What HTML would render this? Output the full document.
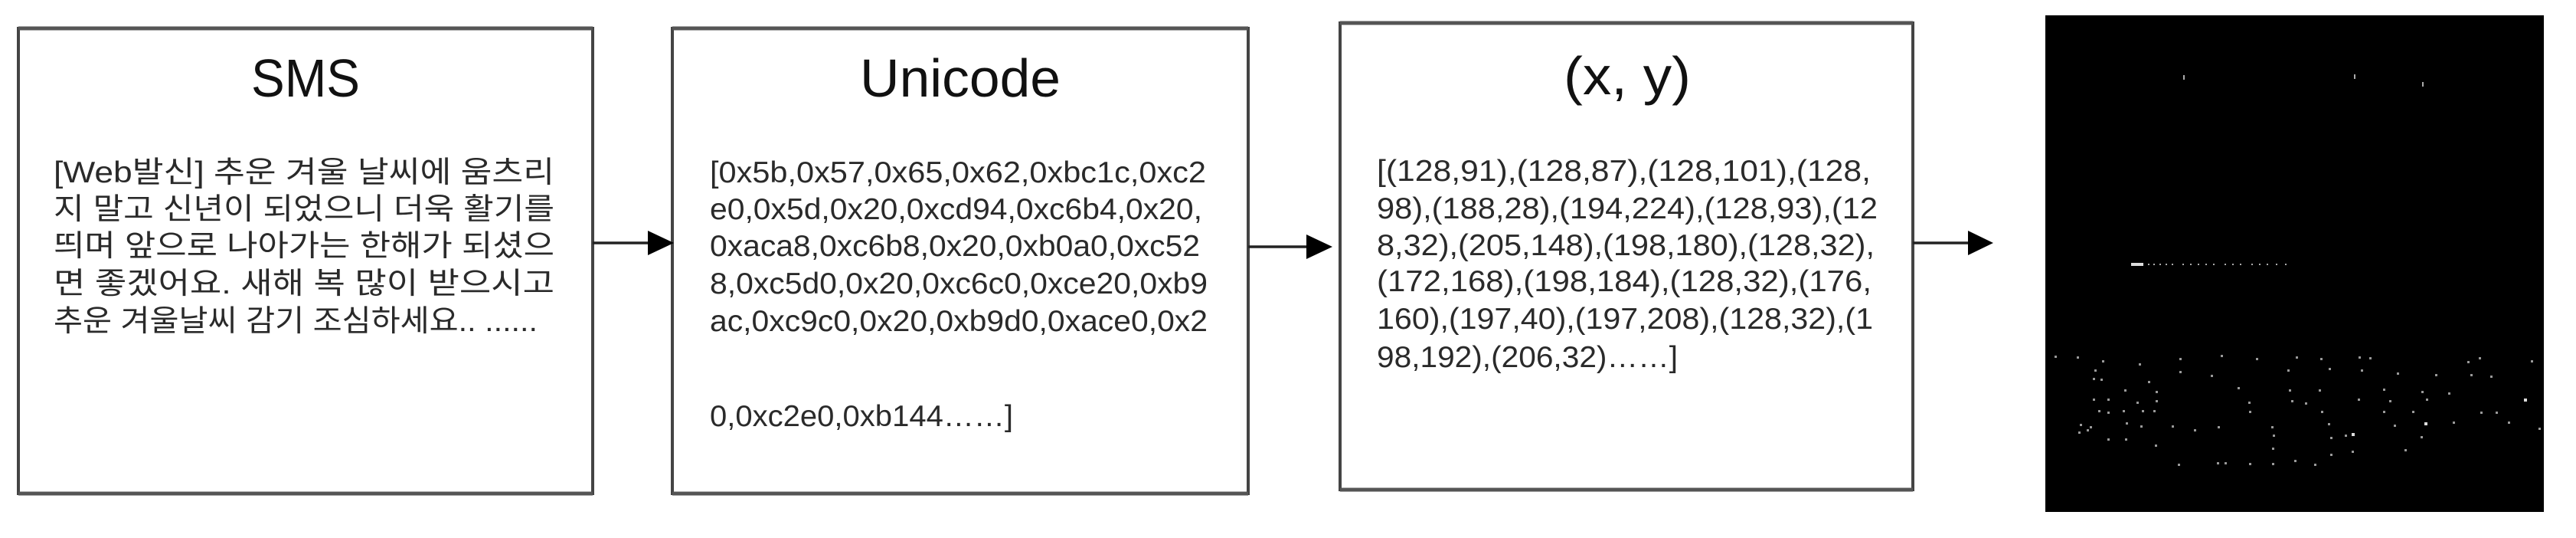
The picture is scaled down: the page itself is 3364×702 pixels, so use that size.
<!DOCTYPE html>
<html><head><meta charset="utf-8"><style>
html,body{margin:0;padding:0;background:#fff;}
svg{display:block;}
text{font-family:"Liberation Sans","Noto Sans CJK KR","NanumGothic",sans-serif;fill:#2a2a2a;}
.t{font-size:70px;fill:#111;}
.b{font-size:39px;}
</style></head><body>
<svg width="3364" height="702" viewBox="0 0 3364 702" xmlns="http://www.w3.org/2000/svg">
<g fill="none" stroke="#444" stroke-width="4">
<rect x="24" y="37" width="750" height="607"/>
<rect x="878" y="37" width="752" height="607"/>
<rect x="1750" y="30" width="748" height="609"/>
</g>
<g stroke="#555" stroke-width="5">
<line x1="24" y1="37" x2="774" y2="37"/><line x1="24" y1="644" x2="774" y2="644"/>
<line x1="878" y1="37" x2="1630" y2="37"/><line x1="878" y1="644" x2="1630" y2="644"/>
<line x1="1750" y1="30" x2="2498" y2="30"/><line x1="1750" y1="639" x2="2498" y2="639"/>
</g>
<g stroke="#222" stroke-width="3.5">
<line x1="774" y1="317" x2="850" y2="317"/>
<line x1="1630" y1="322" x2="1712" y2="322"/>
<line x1="2498" y1="317" x2="2575" y2="317"/>
</g>
<g fill="#000">
<polygon points="846,301 880,317 846,333"/>
<polygon points="1706,306 1740,322 1706,338"/>
<polygon points="2570,301 2603,317 2570,333"/>
</g>
<text class="t" x="399" y="126" text-anchor="middle" textLength="142" lengthAdjust="spacingAndGlyphs">SMS</text>
<text class="t" x="1254" y="126" text-anchor="middle" textLength="262" lengthAdjust="spacingAndGlyphs">Unicode</text>
<text class="t" x="2125" y="123" text-anchor="middle" textLength="166" lengthAdjust="spacingAndGlyphs">(x, y)</text>
<g class="b">
<text x="70" y="238" textLength="654" lengthAdjust="spacingAndGlyphs">[Web발신] 추운 겨울 날씨에 움츠리</text>
<text x="70" y="286" textLength="654" lengthAdjust="spacingAndGlyphs">지 말고 신년이 되었으니 더욱 활기를</text>
<text x="70" y="334" textLength="654" lengthAdjust="spacingAndGlyphs">띄며 앞으로 나아가는 한해가 되셨으</text>
<text x="70" y="383" textLength="654" lengthAdjust="spacingAndGlyphs">면 좋겠어요. 새해 복 많이 받으시고</text>
<text x="70" y="432" textLength="632" lengthAdjust="spacingAndGlyphs">추운 겨울날씨 감기 조심하세요.. ......</text>
</g>
<g class="b">
<text x="927" y="238" textLength="648" lengthAdjust="spacingAndGlyphs">[0x5b,0x57,0x65,0x62,0xbc1c,0xc2</text>
<text x="927" y="286" textLength="643" lengthAdjust="spacingAndGlyphs">e0,0x5d,0x20,0xcd94,0xc6b4,0x20,</text>
<text x="927" y="334" textLength="640" lengthAdjust="spacingAndGlyphs">0xaca8,0xc6b8,0x20,0xb0a0,0xc52</text>
<text x="927" y="383" textLength="650" lengthAdjust="spacingAndGlyphs">8,0xc5d0,0x20,0xc6c0,0xce20,0xb9</text>
<text x="927" y="432" textLength="650" lengthAdjust="spacingAndGlyphs">ac,0xc9c0,0x20,0xb9d0,0xace0,0x2</text>
<text x="927" y="556" textLength="396" lengthAdjust="spacingAndGlyphs">0,0xc2e0,0xb144……]</text>
</g>
<g class="b">
<text x="1798" y="236" textLength="645" lengthAdjust="spacingAndGlyphs">[(128,91),(128,87),(128,101),(128,</text>
<text x="1798" y="285" textLength="654" lengthAdjust="spacingAndGlyphs">98),(188,28),(194,224),(128,93),(12</text>
<text x="1798" y="333" textLength="650" lengthAdjust="spacingAndGlyphs">8,32),(205,148),(198,180),(128,32),</text>
<text x="1798" y="380" textLength="646" lengthAdjust="spacingAndGlyphs">(172,168),(198,184),(128,32),(176,</text>
<text x="1798" y="429" textLength="648" lengthAdjust="spacingAndGlyphs">160),(197,40),(197,208),(128,32),(1</text>
<text x="1798" y="479" textLength="393" lengthAdjust="spacingAndGlyphs">98,192),(206,32)……]</text>
</g>
<rect x="2671" y="20" width="651" height="648" fill="#000"/>
<g fill="#aaa">
<rect x="2851" y="98" width="2" height="6"/><rect x="3074" y="97" width="2" height="6"/><rect x="3163" y="107" width="2" height="6"/>
<rect x="2783" y="343" width="16" height="4" fill="#ddd"/>
<rect x="2805" y="344" width="2" height="2"/><rect x="2812" y="344" width="2" height="2"/><rect x="2820" y="344" width="2" height="2"/><rect x="2828" y="344" width="2" height="2"/><rect x="2836" y="344" width="2" height="2"/><rect x="2850" y="344" width="2" height="2"/><rect x="2860" y="344" width="2" height="2"/><rect x="2870" y="344" width="2" height="2"/><rect x="2880" y="344" width="2" height="2"/><rect x="2890" y="344" width="2" height="2"/><rect x="2905" y="344" width="2" height="2"/><rect x="2915" y="344" width="2" height="2"/><rect x="2925" y="344" width="2" height="2"/><rect x="2940" y="344" width="2" height="2"/><rect x="2950" y="344" width="2" height="2"/><rect x="2960" y="344" width="2" height="2"/><rect x="2972" y="344" width="2" height="2"/><rect x="2984" y="344" width="2" height="2"/>
</g>
<g fill="#999">
<rect x="2683" y="464" width="3" height="3"/><rect x="2712" y="465" width="3" height="3"/><rect x="2745" y="470" width="3" height="3"/><rect x="2735" y="482" width="3" height="3"/><rect x="2793" y="474" width="3" height="3"/><rect x="2846" y="467" width="3" height="3"/><rect x="2900" y="463" width="3" height="3"/><rect x="2946" y="467" width="3" height="3"/><rect x="2998" y="465" width="3" height="3"/><rect x="3030" y="467" width="3" height="3"/><rect x="3080" y="465" width="3" height="3"/><rect x="3094" y="466" width="3" height="3"/><rect x="3222" y="471" width="3" height="3"/><rect x="3237" y="466" width="3" height="3"/><rect x="3305" y="470" width="3" height="3"/>
<rect x="2733" y="493" width="3" height="3"/><rect x="2846" y="484" width="3" height="3"/><rect x="2887" y="489" width="3" height="3"/><rect x="2987" y="482" width="3" height="3"/><rect x="3041" y="480" width="3" height="3"/><rect x="3083" y="482" width="3" height="3"/><rect x="3130" y="486" width="3" height="3"/><rect x="3180" y="488" width="3" height="3"/><rect x="3226" y="488" width="3" height="3"/><rect x="3252" y="490" width="3" height="3"/>
<rect x="2743" y="494" width="3" height="3"/><rect x="2805" y="497" width="3" height="3"/><rect x="2774" y="508" width="3" height="3"/><rect x="2815" y="510" width="3" height="3"/><rect x="2922" y="505" width="3" height="3"/><rect x="2989" y="508" width="3" height="3"/><rect x="3028" y="508" width="3" height="3"/><rect x="3112" y="507" width="3" height="3"/><rect x="3162" y="510" width="3" height="3"/><rect x="3197" y="512" width="3" height="3"/><rect x="3296" y="520" width="4" height="4" fill="#ddd"/>
<rect x="2733" y="520" width="3" height="3"/><rect x="2752" y="520" width="3" height="3"/><rect x="2790" y="524" width="3" height="3"/><rect x="2815" y="522" width="3" height="3"/><rect x="2936" y="524" width="3" height="3"/><rect x="2992" y="522" width="3" height="3"/><rect x="3010" y="525" width="3" height="3"/><rect x="3079" y="520" width="3" height="3"/><rect x="3120" y="522" width="3" height="3"/><rect x="3168" y="520" width="3" height="3"/>
<rect x="2740" y="535" width="3" height="3"/><rect x="2752" y="537" width="3" height="3"/><rect x="2772" y="535" width="3" height="3"/><rect x="2797" y="535" width="3" height="3"/><rect x="2812" y="535" width="3" height="3"/><rect x="2937" y="536" width="3" height="3"/><rect x="3031" y="536" width="3" height="3"/><rect x="3112" y="536" width="3" height="3"/><rect x="3150" y="536" width="3" height="3"/><rect x="3239" y="537" width="3" height="3"/><rect x="3259" y="537" width="3" height="3"/>
<rect x="2716" y="553" width="3" height="3"/><rect x="2729" y="556" width="3" height="3"/><rect x="2776" y="551" width="3" height="3"/><rect x="2795" y="555" width="3" height="3"/><rect x="2836" y="555" width="3" height="3"/><rect x="2896" y="556" width="3" height="3"/><rect x="2966" y="556" width="3" height="3"/><rect x="3040" y="552" width="3" height="3"/><rect x="3126" y="554" width="3" height="3"/><rect x="3166" y="551" width="4" height="4" fill="#ddd"/><rect x="3203" y="550" width="3" height="3"/><rect x="3275" y="550" width="3" height="3"/><rect x="3315" y="558" width="3" height="3"/>
<rect x="2714" y="563" width="3" height="3"/><rect x="2725" y="560" width="3" height="3"/><rect x="2865" y="560" width="3" height="3"/><rect x="2968" y="567" width="3" height="3"/><rect x="3043" y="570" width="3" height="3"/><rect x="3062" y="567" width="3" height="3"/><rect x="3071" y="565" width="4" height="4" fill="#ddd"/><rect x="3161" y="569" width="3" height="3"/>
<rect x="2752" y="572" width="3" height="3"/><rect x="2775" y="572" width="3" height="3"/><rect x="2814" y="580" width="3" height="3"/><rect x="2967" y="584" width="3" height="3"/><rect x="3071" y="588" width="3" height="3"/><rect x="3140" y="586" width="3" height="3"/><rect x="3043" y="592" width="3" height="3"/>
<rect x="2844" y="605" width="3" height="3"/><rect x="2895" y="603" width="3" height="3"/><rect x="2905" y="603" width="3" height="3"/><rect x="2937" y="604" width="3" height="3"/><rect x="2967" y="604" width="3" height="3"/><rect x="2996" y="600" width="3" height="3"/><rect x="3022" y="605" width="3" height="3"/>
</g>
</svg>
</body></html>
